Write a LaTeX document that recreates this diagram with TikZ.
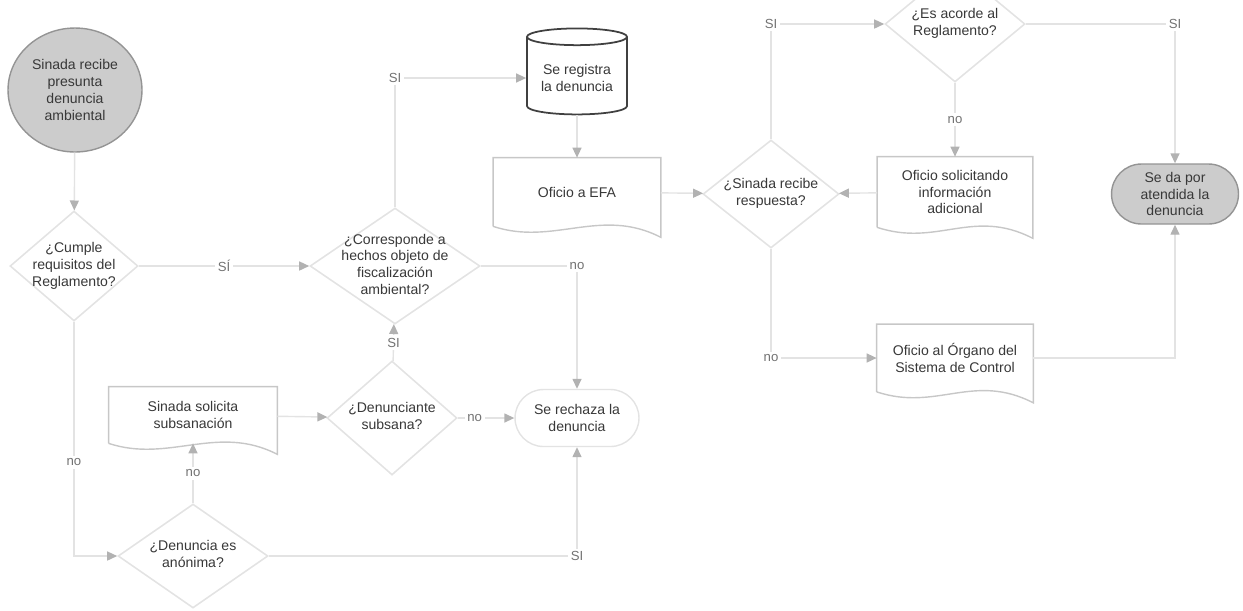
\documentclass[tikz,border=0pt]{standalone}
\usepackage{fontspec}
\setmainfont{Liberation Sans}
\usetikzlibrary{shapes.geometric, shapes.misc, arrows.meta, positioning, calc}
\definecolor{cline}{gray}{0.89}
\definecolor{ctip}{gray}{0.70}
\definecolor{cdiam}{gray}{0.89}
\definecolor{cdoc}{gray}{0.78}
\definecolor{cfill}{gray}{0.80}
\definecolor{cedge}{gray}{0.58}
\definecolor{ctext}{gray}{0.22}
\newcommand{\dtxt}[1]{\smash{\makebox[0pt]{\raisebox{-2pt}{\begin{tabular}{@{}c@{}}#1\end{tabular}}}}}

\begin{document}
\begin{tikzpicture}[
    x=0.02cm, y=-0.02cm,
    txt/.style={font=\fontsize{8}{9.6}\selectfont, text=ctext, align=center},
    decision/.style={txt, diamond, draw=cdiam, line width=0.9pt, inner sep=0pt},
    docbox/.style={txt, rectangle, inner sep=2pt},
    docline/.style={draw=cdoc, line width=0.8pt},
    terminal/.style={txt, rounded rectangle, inner sep=2pt},
    flow/.style={-{Triangle[length=2mm, width=1.8mm, color=ctip]}, cline, line width=0.8pt},
    lbl/.style={font=\fontsize{7.5}{9}\selectfont, text=black!55, fill=white, inner sep=1.5pt}
]
\useasboundingbox (0,0) rectangle (1243,610);
\clip (0,0) rectangle (1243,610);

%% Left column
\node[txt, ellipse, fill=cfill, draw=cedge, line width=0.8pt, inner sep=0pt,
      minimum width=2.68cm, minimum height=2.48cm] (inicio) at (75,90)
      {Sinada recibe\\presunta\\denuncia\\ambiental};
\node[decision, minimum width=2.56cm, minimum height=2.2cm] (cumple) at (74,266)
      {\dtxt{¿Cumple\\requisitos del\\Reglamento?}};
\node[decision, minimum width=3cm, minimum height=2.08cm] (anonima) at (193,556)
      {\dtxt{¿Denuncia es\\anónima?}};
\node[docbox, minimum width=3.36cm, minimum height=1.12cm] (subs) at (193,415)
      {Sinada solicita\\subsanación};

%% Middle column
\node[decision, minimum width=3.4cm, minimum height=2.32cm] (corresp) at (395,266)
      {\dtxt{¿Corresponde a\\hechos objeto de\\fiscalización\\ambiental?}};
\node[decision, minimum width=2.6cm, minimum height=2.28cm] (subsana) at (392,418)
      {\dtxt{¿Denunciante\\subsana?}};
\node[txt, cylinder, shape border rotate=90, aspect=0.2, draw=black!75, line width=1pt,
      minimum width=2cm, minimum height=1.72cm] (registra) at (577,78)
      {Se registra\\la denuncia};
\node[docbox, minimum width=3.34cm, minimum height=1.36cm] (lfa) at (577,192)
      {Oficio a EFA};
\node[terminal, draw=cdiam, line width=0.8pt, minimum width=2.62cm, minimum height=1.14cm]
      (rechaza) at (577,418) {Se rechaza la\\denuncia};

%% Right part
\node[decision, minimum width=2.72cm, minimum height=2.16cm] (respuesta) at (771,194)
      {\dtxt{¿Sinada recibe\\respuesta?}};
\node[decision, minimum width=2.8cm, minimum height=2.32cm] (acorde) at (955,24)
      {\dtxt{¿Es acorde al\\Reglamento?}};
\node[docbox, minimum width=3.1cm, minimum height=1.4cm] (solic) at (955,192)
      {Oficio solicitando\\información\\adicional};
\node[docbox, minimum width=3.12cm, minimum height=1.34cm] (organo) at (955,358)
      {Oficio al Órgano del\\Sistema de Control};
\node[terminal, fill=cfill, draw=cedge, line width=0.8pt, minimum width=2.68cm,
      minimum height=1.2cm] (atendida) at (1175,194) {Se da por\\atendida la\\denuncia};

%% document outlines
\foreach \d in {lfa, subs, solic, organo}
  \draw[docline] (\d.south west) -- (\d.north west) -- (\d.north east)
    -- ([yshift=-0.22cm]\d.south east)
    .. controls ([xshift=-1.2cm, yshift=0.4cm]\d.south east)
    and ([xshift=1.2cm, yshift=-0.4cm]\d.south west) .. (\d.south west);

%% connectors
\draw[flow] (inicio) -- (cumple);
\draw[flow] (cumple) -- node[lbl] {SÍ} (corresp);
\draw[flow] (cumple.south) |- node[lbl, pos=0.3] {no} (anonima.west);
\draw[flow] (anonima.north) -- node[lbl] {no} (subs.south);
\draw[flow] (anonima.east) -| node[lbl, pos=0.5] {SI} (rechaza.south);
\draw[flow] (subs) -- (subsana);
\draw[flow] (subsana) -- node[lbl] {SI} (corresp);
\draw[flow] (subsana) -- node[lbl, pos=0.3] {no} (rechaza);
\draw[flow] (corresp.north) |- node[lbl, pos=0.5] {SI} (registra.west);
\draw[flow] (corresp.east) -| node[lbl, pos=0.5] {no} (rechaza.north);
\draw[flow] (registra) -- (lfa);
\draw[flow] (lfa) -- (respuesta);
\draw[flow] (solic) -- (respuesta);
\draw[flow] (respuesta.north) |- node[lbl, pos=0.5] {SI} (acorde.west);
\draw[flow] (acorde) -- node[lbl] {no} (solic);
\draw[flow] (acorde.east) -| node[lbl, pos=0.5] {SI} (atendida.north);
\draw[flow] (respuesta.south) |- node[lbl, pos=0.5] {no} (organo.west);
\draw[flow] (organo.east) -| (atendida.south);

\end{tikzpicture}
\end{document}
